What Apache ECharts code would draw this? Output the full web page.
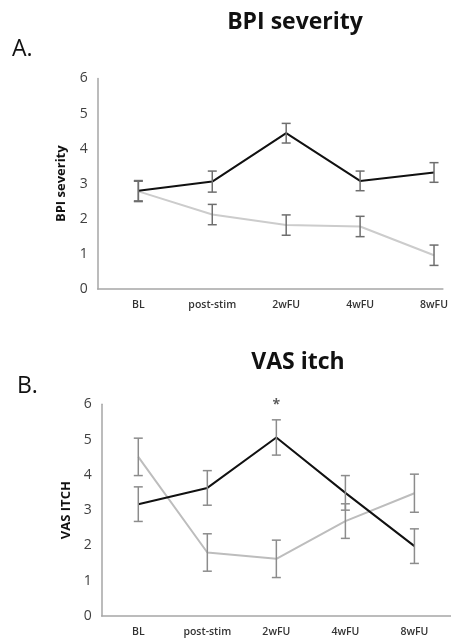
<!DOCTYPE html>
<html>
<head>
<meta charset="utf-8">
<script src="https://cdn.jsdelivr.net/npm/echarts@6/dist/echarts.min.js"></script>
<style>
  html, body { margin: 0; padding: 0; background: #fff; }
  #chart { width: 451px; height: 641px; }
</style>
</head>
<body>
<div id="chart"></div>
<script>
// categories (time points)
var categories = ['BL', 'post-stim', '2wFU', '4wFU', '8wFU'];
var yTicks = [0, 1, 2, 3, 4, 5, 6];

// A. BPI severity
var bpiBlack = [2.80, 3.06, 4.44, 3.08, 3.32];
var bpiBlackErr = [0.29, 0.30, 0.28, 0.28, 0.28];
var bpiGray = [2.78, 2.12, 1.82, 1.78, 0.96];
var bpiGrayErr = [0.29, 0.29, 0.29, 0.29, 0.29];

// B. VAS itch
var vasBlack = [3.17, 3.63, 5.06, 3.49, 1.98];
var vasBlackErr = [0.49, 0.49, 0.50, 0.49, 0.49];
var vasGray = [4.51, 1.80, 1.62, 2.69, 3.48];
var vasGrayErr = [0.53, 0.53, 0.53, 0.49, 0.54];
var vasStar = [2]; // significant time point

var myChart = echarts.init(document.getElementById('chart'));
var font = '"Open Sans", "Liberation Sans", sans-serif';

function pts(vals) {
  return vals.map(function (v, i) { return [i, v]; });
}
function errPts(vals, errs) {
  return vals.map(function (v, i) { return [i, v, errs[i]]; });
}
function errorBars(color) {
  return function (params, api) {
    var x = api.value(0), y = api.value(1), e = api.value(2);
    var hi = api.coord([x, y + e]);
    var lo = api.coord([x, y - e]);
    var w = 4.5;
    var st = { stroke: color, lineWidth: 1.5 };
    return {
      type: 'group',
      children: [
        { type: 'line', shape: { x1: hi[0], y1: hi[1], x2: lo[0], y2: lo[1] }, style: st },
        { type: 'line', shape: { x1: hi[0] - w, y1: hi[1], x2: hi[0] + w, y2: hi[1] }, style: st },
        { type: 'line', shape: { x1: lo[0] - w, y1: lo[1], x2: lo[0] + w, y2: lo[1] }, style: st }
      ]
    };
  };
}
function xAx(idx, min, max) {
  return {
    gridIndex: idx, type: 'value', min: min, max: max,
    axisLine: { show: true, onZero: false, lineStyle: { color: '#a6a6a6', width: 1.5 } },
    axisTick: { show: false },
    splitLine: { show: false },
    axisLabel: {
      customValues: [0, 1, 2, 3, 4],
      formatter: function (v) { return categories[Math.round(v)]; },
      color: '#333', fontFamily: font, fontSize: 10.5, fontWeight: 600, margin: 11
    }
  };
}
function yAx(idx, name, gap, pad) {
  return {
    gridIndex: idx, type: 'value', min: yTicks[0], max: yTicks[yTicks.length - 1], interval: 1,
    name: name, nameLocation: 'middle', nameGap: gap,
    nameTextStyle: { fontFamily: font, fontSize: 13, fontWeight: 'bold', color: '#111' },
    axisLine: { show: true, onZero: false, lineStyle: { color: '#a6a6a6', width: 1.5 } },
    axisTick: { show: false },
    splitLine: { show: false },
    axisLabel: { color: '#404040', fontFamily: font, fontSize: 14, margin: 10, padding: [pad, 0, 0, 0] }
  };
}

var option = {
  animation: false,
  backgroundColor: '#fff',
  graphic: [
    { type: 'text', left: 12, top: 38, style: { text: 'A.', font: '23px ' + font, fill: '#111' } },
    { type: 'text', left: 17, top: 375, style: { text: 'B.', font: '23px ' + font, fill: '#111' } }
  ],
  title: [
    { text: 'BPI severity', left: 290, top: 6, textAlign: 'center',
      textStyle: { fontFamily: font, fontSize: 23, fontWeight: 'bold', color: '#111' } },
    { text: 'VAS itch', left: 293, top: 346, textAlign: 'center',
      textStyle: { fontFamily: font, fontSize: 23, fontWeight: 'bold', color: '#111' } }
  ],
  grid: [
    { left: 97.7, top: 78.5, width: 347.3, height: 210.4 },
    { left: 101.7, top: 404.3, width: 381.5, height: 211.7 }
  ],
  xAxis: [xAx(0, -0.55, 4.12), xAx(1, -0.53, 4.53)],
  yAxis: [yAx(0, 'BPI severity', 30, 8), yAx(1, 'VAS ITCH', 27, 2)],
  series: [
    { type: 'line', xAxisIndex: 0, yAxisIndex: 0, data: pts(bpiGray), symbol: 'none',
      lineStyle: { color: '#cccccc', width: 2 } },
    { type: 'line', xAxisIndex: 0, yAxisIndex: 0, data: pts(bpiBlack), symbol: 'none',
      lineStyle: { color: '#111', width: 2 } },
    { type: 'custom', xAxisIndex: 0, yAxisIndex: 0, data: errPts(bpiGray, bpiGrayErr),
      renderItem: errorBars('#6e6e6e'), z: 5 },
    { type: 'custom', xAxisIndex: 0, yAxisIndex: 0, data: errPts(bpiBlack, bpiBlackErr),
      renderItem: errorBars('#6e6e6e'), z: 5 },

    { type: 'line', xAxisIndex: 1, yAxisIndex: 1, data: pts(vasGray), symbol: 'none',
      lineStyle: { color: '#bdbdbd', width: 2 } },
    { type: 'line', xAxisIndex: 1, yAxisIndex: 1, data: pts(vasBlack), symbol: 'none',
      lineStyle: { color: '#111', width: 2 } },
    { type: 'custom', xAxisIndex: 1, yAxisIndex: 1, data: errPts(vasGray, vasGrayErr),
      renderItem: errorBars('#8c8c8c'), z: 5 },
    { type: 'custom', xAxisIndex: 1, yAxisIndex: 1, data: errPts(vasBlack, vasBlackErr),
      renderItem: errorBars('#8c8c8c'), z: 5 },
    { type: 'scatter', xAxisIndex: 1, yAxisIndex: 1, symbolSize: 0, clip: false,
      data: vasStar.map(function (i) { return [i, vasBlack[i] + vasBlackErr[i]]; }),
      label: { show: true, position: 'top', distance: 8, formatter: '*',
        fontFamily: font, fontSize: 14, fontWeight: 'bold', color: '#333' } }
  ]
};

myChart.setOption(option);
</script>
</body>
</html>
